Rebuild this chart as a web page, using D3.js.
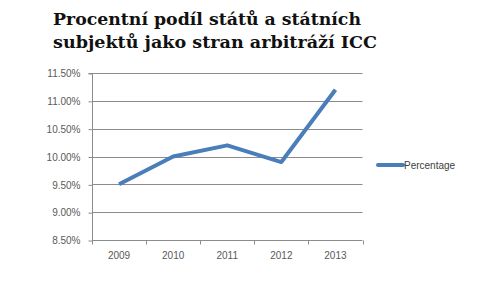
<!DOCTYPE html>
<html>
<head>
<meta charset="utf-8">
<script src="https://cdn.jsdelivr.net/npm/d3@7"></script>
<style>
  body { margin: 0; background: #fff; }
  svg { display: block; }
</style>
</head>
<body>
<div id="chart"><svg></svg></div>
<script>
const titleLines = ['Procentní podíl států a státních', 'subjektů jako stran arbitráží ICC']
const years = ['2009', '2010', '2011', '2012', '2013']
const percentages = [9.5, 10.0, 10.2, 9.9, 11.2]
const yTicks = [8.5, 9.0, 9.5, 10.0, 10.5, 11.0, 11.5]
const seriesName = 'Percentage'

const width = 500
const height = 282
const plot = { left: 92, right: 362.5, top: 73, bottom: 240 }
const lineColor = '#4a7ebb'
const gridColor = '#8c8c8c'
const labelFont = "'Liberation Sans', Arial, sans-serif"

const svg = d3.select('#chart svg')
  .attr('width', width)
  .attr('height', height)

// title, two lines of bold serif
svg.append('g')
  .selectAll('text')
  .data(titleLines)
  .join('text')
  .attr('x', 53)
  .attr('y', (d, i) => 25 + i * 22.5)
  .attr('textLength', (d, i) => i === 0 ? 308 : 324)
  .attr('lengthAdjust', 'spacingAndGlyphs')
  .style('font-family', "'DejaVu Serif', Georgia, serif")
  .style('font-weight', 'bold')
  .style('font-size', '17px')
  .style('fill', '#111')
  .text(d => d)

const x = d3.scaleBand()
  .domain(years)
  .range([plot.left, plot.right])

const y = d3.scaleLinear()
  .domain([8.5, 11.5])
  .range([plot.bottom, plot.top])

// horizontal gridlines
svg.append('g')
  .selectAll('line')
  .data(yTicks.slice(1))
  .join('line')
  .attr('x1', plot.left)
  .attr('x2', plot.right)
  .attr('y1', d => Math.round(y(d)) + 0.5)
  .attr('y2', d => Math.round(y(d)) + 0.5)
  .attr('stroke', gridColor)
  .attr('stroke-width', 1)

// y axis
const yAxis = svg.append('g')
  .attr('transform', `translate(${plot.left + 0.5},0.5)`)
  .call(d3.axisLeft(y)
    .tickValues(yTicks)
    .tickSize(4)
    .tickPadding(8)
    .tickFormat(d => d.toFixed(2) + '%'))
yAxis.select('.domain').attr('stroke', gridColor).attr('d', `M-4,${plot.top}H0V${plot.bottom}`)
yAxis.selectAll('.tick line').attr('stroke', gridColor)
yAxis.selectAll('text')
  .style('font-family', labelFont)
  .style('font-size', '10px')
  .style('fill', '#595959')

// x axis with ticks between categories
const xAxis = svg.append('g')
  .attr('transform', `translate(0,${plot.bottom + 0.5})`)
xAxis.append('line')
  .attr('x1', plot.left)
  .attr('x2', plot.right)
  .attr('stroke', gridColor)
xAxis.selectAll('.tick-mark')
  .data([...years.map(d => x(d)), plot.right])
  .join('line')
  .attr('class', 'tick-mark')
  .attr('x1', d => Math.round(d) + 0.5)
  .attr('x2', d => Math.round(d) + 0.5)
  .attr('y1', 0)
  .attr('y2', 4)
  .attr('stroke', gridColor)
xAxis.selectAll('text')
  .data(years)
  .join('text')
  .attr('x', d => x(d) + x.bandwidth() / 2)
  .attr('y', 18)
  .attr('text-anchor', 'middle')
  .style('font-family', labelFont)
  .style('font-size', '10px')
  .style('fill', '#595959')
  .text(d => d)

// data line
const data = years.map((d, i) => ({ year: d, value: percentages[i] }))
svg.append('path')
  .datum(data)
  .attr('fill', 'none')
  .attr('stroke', lineColor)
  .attr('stroke-width', 4)
  .attr('stroke-linejoin', 'round')
  .attr('d', d3.line()
    .x(d => x(d.year) + x.bandwidth() / 2)
    .y(d => y(d.value)))

// legend
const legend = svg.append('g')
  .attr('transform', 'translate(378,165)')
legend.append('line')
  .attr('x1', 0)
  .attr('x2', 25)
  .attr('stroke', lineColor)
  .attr('stroke-width', 4)
  .attr('stroke-linecap', 'round')
legend.append('text')
  .attr('x', 26)
  .attr('y', 3.5)
  .style('font-family', labelFont)
  .style('font-size', '10px')
  .style('fill', '#404040')
  .text(seriesName)
</script>
</body>
</html>
